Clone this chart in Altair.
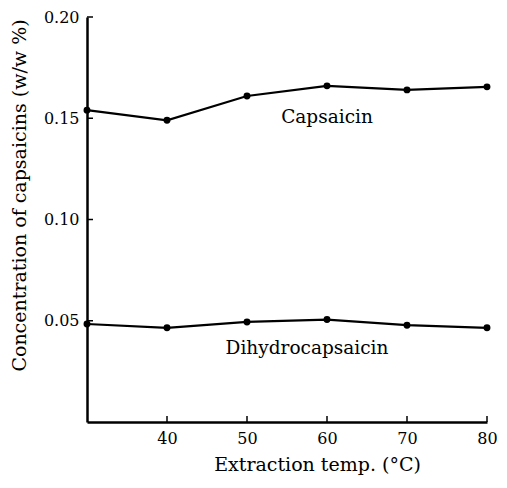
import altair as alt
import pandas as pd

temps = [30, 40, 50, 60, 70, 80]
capsaicin = [0.154, 0.149, 0.161, 0.166, 0.164, 0.1655]
dihydro = [0.0484, 0.0465, 0.0494, 0.0506, 0.0478, 0.0465]
x_ticks = [40, 50, 60, 70, 80]
y_ticks = [0.05, 0.10, 0.15, 0.20]
series_labels = [("Capsaicin", 60.0, 0.1505), ("Dihydrocapsaicin", 57.5, 0.0363)]

FONT = "DejaVu Serif"

df = pd.DataFrame({
    "temp": temps * 2,
    "conc": capsaicin + dihydro,
    "series": ["Capsaicin"] * len(temps) + ["Dihydrocapsaicin"] * len(temps),
})

xs = alt.Scale(domain=[30, 80], nice=False, zero=False)
ys = alt.Scale(domain=[0, 0.20], nice=False)

x_axis = alt.Axis(values=x_ticks, tickSize=0, labelPadding=8, format="d",
                  title="Extraction temp. (°C)", titlePadding=9, titleX=230)
y_axis = alt.Axis(values=y_ticks, tickSize=0, labelPadding=8, format=".2f",
                  title="Concentration of capsaicins (w/w %)", titlePadding=14, titleY=178)

base = alt.Chart(df)
lines = base.mark_line(color="black", strokeWidth=2.2).encode(
    x=alt.X("temp:Q", scale=xs, axis=x_axis),
    y=alt.Y("conc:Q", scale=ys, axis=y_axis),
    detail="series:N",
)
points = base.mark_point(filled=True, color="black", size=48, opacity=1).encode(
    x=alt.X("temp:Q", scale=xs),
    y=alt.Y("conc:Q", scale=ys),
)

xt = alt.Chart(pd.DataFrame({"t": x_ticks})).mark_rule(color="black", strokeWidth=1.5).encode(
    x=alt.X("t:Q", scale=xs), y=alt.value(405), y2=alt.value(399))
yt = alt.Chart(pd.DataFrame({"t": y_ticks})).mark_rule(color="black", strokeWidth=1.5).encode(
    y=alt.Y("t:Q", scale=ys), x=alt.value(0), x2=alt.value(6))

lab_df = pd.DataFrame(series_labels, columns=["label", "x", "y"])
labels = alt.Chart(lab_df).mark_text(font=FONT, fontSize=18.5, color="black").encode(
    x=alt.X("x:Q", scale=xs), y=alt.Y("y:Q", scale=ys), text="label:N")

chart = alt.layer(lines, points, xt, yt, labels).properties(
    width=400, height=405,
    autosize=alt.AutoSizeParams(type="none"),
    padding={"left": 79, "top": 9, "right": 12, "bottom": 58},
).configure_view(stroke=None).configure_axis(
    domainColor="black", domainWidth=2.5, grid=False,
    labelFont=FONT, labelFontSize=16, labelColor="black",
    titleFont=FONT, titleFontSize=19, titleFontWeight="normal", titleColor="black",
).configure_axisX(labelFlush=False)

chart.save("out.html", embed_options={"renderer": "svg", "actions": False})
